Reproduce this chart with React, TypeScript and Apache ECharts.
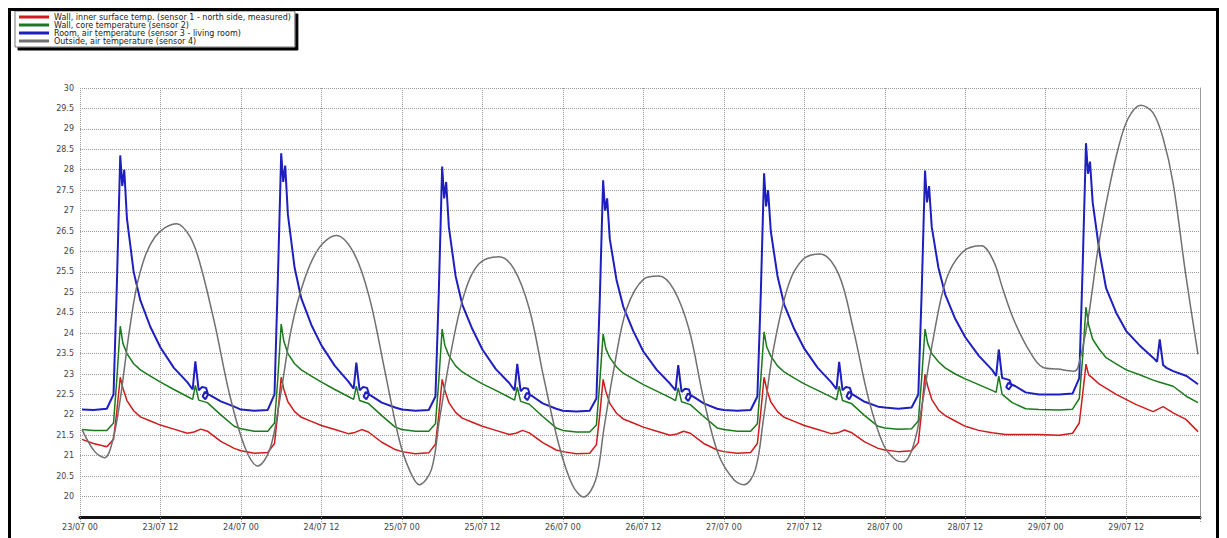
import React, { useEffect, useRef } from "react";
import * as echarts from "echarts";

const SERIES_NAMES = [
  "Wall, inner surface temp. (sensor 1 - north side, measured)",
  "Wall, core temperature (sensor 2)",
  "Room, air temperature (sensor 3 - living room)",
  "Outside, air temperature (sensor 4)",
];

const X_TICK_LABELS = [
  "23/07 00", "23/07 12", "24/07 00", "24/07 12", "25/07 00", "25/07 12", "26/07 00",
  "26/07 12", "27/07 00", "27/07 12", "28/07 00", "28/07 12", "29/07 00", "29/07 12",
];

const X_MIN = 0;
const X_MAX = 167;
const X_STEP = 12;
const Y_MIN = 19.5;
const Y_MAX = 30;
const Y_STEP = 0.5;

// [hour, °C]
const redData: [number, number][] = [
  [0.3, 21.4], [2, 21.3], [4, 21.22], [5, 21.4], [5.5, 22.1], [6, 22.92], [6.4, 22.65], [7, 22.35], [8, 22.1], [9, 21.95], [10.5, 21.85], [12, 21.75], [14, 21.65], [16, 21.55], [17, 21.58], [18, 21.65], [19, 21.6], [21, 21.35], [23, 21.18],
  [24, 21.12], [26, 21.06], [28, 21.08], [29, 21.3], [29.5, 22.05], [30, 22.92], [30.4, 22.62], [31, 22.32], [32, 22.08], [33, 21.94], [34.5, 21.84], [36, 21.74], [38, 21.64], [40, 21.54], [41, 21.57], [42, 21.64], [43, 21.58], [45, 21.33], [47, 21.15],
  [48, 21.1], [50, 21.05], [52, 21.07], [53, 21.28], [53.5, 22.0], [54, 22.87], [54.4, 22.6], [55, 22.3], [56, 22.06], [57, 21.92], [58.5, 21.82], [60, 21.72], [62, 21.62], [64, 21.52], [65, 21.55], [66, 21.62], [67, 21.56], [69, 21.32], [71, 21.14],
  [72, 21.1], [74, 21.05], [76, 21.06], [77, 21.27], [77.5, 22.0], [78, 22.87], [78.4, 22.58], [79, 22.28], [80, 22.04], [81, 21.9], [82.5, 21.8], [84, 21.7], [86, 21.6], [88, 21.5], [89, 21.53], [90, 21.6], [91, 21.55], [93, 21.3], [95, 21.14],
  [96, 21.1], [98, 21.06], [100, 21.08], [101, 21.3], [101.5, 22.05], [102, 22.92], [102.4, 22.62], [103, 22.32], [104, 22.08], [105, 21.94], [106.5, 21.84], [108, 21.74], [110, 21.64], [112, 21.54], [113, 21.56], [114, 21.63], [115, 21.57], [117, 21.34], [119, 21.18],
  [120, 21.14], [122, 21.1], [124, 21.12], [125, 21.32], [125.5, 22.1], [126, 22.99], [126.4, 22.7], [127, 22.38], [128, 22.12], [129, 21.98], [130.5, 21.85], [132, 21.72], [134, 21.62], [136, 21.56], [138, 21.52], [141, 21.52], [143, 21.52],
  [146, 21.5], [148, 21.55], [149, 21.8], [149.5, 22.5], [150, 23.24], [150.4, 22.98], [151, 22.9], [152, 22.75], [154.5, 22.5], [157.5, 22.25], [160, 22.08], [161.5, 22.2], [163, 22.05], [164.9, 21.89], [166.7, 21.59],
];

const greenData: [number, number][] = [
  [0.3, 21.64], [2, 21.62], [4, 21.62], [5, 21.8], [5.5, 22.9], [6, 24.17], [6.4, 23.75], [7, 23.5], [8, 23.25], [9, 23.1], [10.5, 22.95], [12, 22.8], [14, 22.62], [16, 22.45], [16.8, 22.38], [17.2, 22.72], [17.7, 22.36], [19, 22.3], [21, 22.0], [23, 21.72],
  [24, 21.66], [26, 21.6], [28, 21.6], [29, 21.8], [29.5, 22.9], [30, 24.22], [30.4, 23.8], [31, 23.5], [32, 23.25], [33, 23.1], [34.5, 22.95], [36, 22.8], [38, 22.62], [40, 22.45], [40.8, 22.38], [41.2, 22.7], [41.7, 22.35], [43, 22.28], [45, 21.98], [47, 21.7],
  [48, 21.64], [50, 21.6], [52, 21.6], [53, 21.78], [53.5, 22.85], [54, 24.1], [54.4, 23.7], [55, 23.45], [56, 23.2], [57, 23.05], [58.5, 22.9], [60, 22.76], [62, 22.6], [64, 22.43], [64.8, 22.36], [65.2, 22.68], [65.7, 22.33], [67, 22.26], [69, 21.96], [71, 21.68],
  [72, 21.62], [74, 21.58], [76, 21.58], [77, 21.75], [77.5, 22.8], [78, 23.98], [78.4, 23.62], [79, 23.4], [80, 23.17], [81, 23.02], [82.5, 22.88], [84, 22.74], [86, 22.58], [88, 22.42], [88.8, 22.35], [89.2, 22.66], [89.7, 22.32], [91, 22.25], [93, 21.96], [95, 21.68],
  [96, 21.64], [98, 21.6], [100, 21.6], [101, 21.78], [101.5, 22.85], [102, 24.03], [102.4, 23.66], [103, 23.44], [104, 23.2], [105, 23.05], [106.5, 22.9], [108, 22.76], [110, 22.6], [112, 22.44], [112.8, 22.37], [113.2, 22.7], [113.7, 22.35], [115, 22.28], [117, 21.98], [119, 21.72],
  [120, 21.68], [122, 21.65], [124, 21.66], [125, 21.85], [125.5, 22.9], [126, 24.1], [126.4, 23.75], [127, 23.5], [128, 23.3], [129, 23.15], [130.5, 23.0], [132, 22.88], [134, 22.74], [136, 22.6], [136.6, 22.55], [137, 22.95], [137.5, 22.5], [139, 22.3], [141, 22.15], [143, 22.13],
  [146, 22.12], [148, 22.14], [149, 22.4], [149.5, 23.4], [150, 24.64], [150.4, 24.2], [151, 23.85], [152, 23.6], [153, 23.4], [154.5, 23.25], [156, 23.1], [158, 22.98], [160, 22.85], [161, 22.8], [163, 22.7], [165, 22.45], [166.7, 22.3],
];

const blueData: [number, number][] = [
  [0.3, 22.13], [2, 22.12], [4, 22.15], [5, 22.5], [5.5, 25.2], [6, 28.35], [6.3, 27.6], [6.6, 28.0], [7, 26.8], [8, 25.5], [9, 24.8], [10.5, 24.15], [12, 23.65], [14, 23.15], [16, 22.8], [16.8, 22.62], [17.2, 23.31], [17.7, 22.6], [18.2, 22.68], [18.8, 22.66], [19.1, 22.5], [18.7, 22.38], [18.3, 22.45], [18.6, 22.56], [19.5, 22.47], [21, 22.33], [23, 22.2],
  [24, 22.13], [26, 22.1], [28, 22.12], [29, 22.5], [29.5, 25.3], [30, 28.4], [30.3, 27.7], [30.6, 28.1], [31, 26.9], [32, 25.6], [33, 24.85], [34.5, 24.2], [36, 23.7], [38, 23.2], [40, 22.82], [40.8, 22.64], [41.2, 23.28], [41.7, 22.6], [42.2, 22.68], [42.8, 22.66], [43.1, 22.5], [42.7, 22.38], [42.3, 22.45], [42.6, 22.56], [43.5, 22.46], [45, 22.3], [47, 22.18],
  [48, 22.13], [50, 22.1], [52, 22.12], [53, 22.45], [53.5, 25.0], [54, 28.08], [54.3, 27.3], [54.6, 27.7], [55, 26.6], [56, 25.4], [57, 24.7], [58.5, 24.1], [60, 23.6], [62, 23.12], [64, 22.78], [64.8, 22.6], [65.2, 23.25], [65.7, 22.58], [66.2, 22.66], [66.8, 22.64], [67.1, 22.48], [66.7, 22.36], [66.3, 22.43], [66.6, 22.54], [67.5, 22.45], [69, 22.28], [71, 22.15],
  [72, 22.1], [74, 22.08], [76, 22.1], [77, 22.4], [77.5, 24.8], [78, 27.74], [78.3, 27.0], [78.6, 27.3], [79, 26.3], [80, 25.3], [81, 24.65], [82.5, 24.05], [84, 23.55], [86, 23.1], [88, 22.76], [88.8, 22.6], [89.2, 23.22], [89.7, 22.56], [90.2, 22.64], [90.8, 22.62], [91.1, 22.46], [90.7, 22.34], [90.3, 22.41], [90.6, 22.52], [91.5, 22.44], [93, 22.28], [95, 22.15],
  [96, 22.12], [98, 22.1], [100, 22.12], [101, 22.45], [101.5, 24.9], [102, 27.91], [102.3, 27.1], [102.6, 27.5], [103, 26.5], [104, 25.4], [105, 24.7], [106.5, 24.1], [108, 23.62], [110, 23.15], [112, 22.8], [112.8, 22.63], [113.2, 23.3], [113.7, 22.6], [114.2, 22.68], [114.8, 22.66], [115.1, 22.5], [114.7, 22.38], [114.3, 22.45], [114.6, 22.56], [115.5, 22.47], [117, 22.32], [119, 22.2],
  [120, 22.18], [122, 22.15], [124, 22.18], [125, 22.5], [125.5, 25.0], [126, 27.98], [126.3, 27.2], [126.6, 27.6], [127, 26.6], [128, 25.6], [129, 24.95], [130.5, 24.35], [132, 23.9], [134, 23.45], [136, 23.1], [136.6, 22.95], [137, 23.6], [137.5, 22.9], [138, 22.88], [138.6, 22.85], [138.9, 22.72], [138.5, 22.62], [138.1, 22.68], [138.4, 22.78], [139.5, 22.7], [141, 22.55], [143, 22.5],
  [146, 22.5], [148, 22.52], [149, 22.9], [149.5, 25.6], [150, 28.65], [150.3, 27.9], [150.6, 28.2], [151, 27.2], [152, 26.0], [153, 25.1], [154.5, 24.5], [156, 24.05], [158, 23.7], [160, 23.4], [160.6, 23.3], [161, 23.85], [161.5, 23.22], [162, 23.15], [163, 23.07], [165, 22.95], [166.7, 22.75],
];

const grayData: [number, number][] = [
  [0.3, 21.64], [2.2, 21.1], [3.7, 20.95], [4.9, 21.39], [6, 22.38], [7.4, 24.1], [8.9, 25.45], [11.2, 26.36], [14.4, 26.68], [16.4, 26.36], [17.9, 25.7], [20.1, 24.22], [22.3, 22.5], [24.6, 21.2],
  [26.5, 20.75], [28.3, 21.15], [29.8, 22.38], [31.5, 24.1], [33.5, 25.33], [35.7, 26.1], [38.2, 26.39], [40.9, 25.94], [43.2, 24.84], [45.4, 23.12], [47.6, 21.39], [49.1, 20.66],
  [50.6, 20.29], [52.4, 20.66], [53.6, 21.89], [55.4, 23.61], [57.3, 24.96], [59.5, 25.7], [62.5, 25.87], [64.7, 25.57], [67, 24.59], [69.2, 22.87], [71.4, 21.27], [73.4, 20.29],
  [75.1, 19.99], [76.9, 20.41], [78.1, 21.64], [79.6, 23.12], [81.5, 24.59], [84.1, 25.33], [86.3, 25.4], [88.5, 25.08], [90.8, 24.1], [93, 22.38], [95.2, 21.03], [97.5, 20.41],
  [99, 20.29], [100.7, 20.66], [101.9, 21.89], [103.4, 23.61], [105.7, 25.21], [107.9, 25.82], [110.4, 25.94], [113.1, 25.45], [115.3, 24.1], [117.6, 22.38], [119.8, 21.27], [121.6, 20.9],
  [122.8, 20.85], [124.3, 21.27], [125.7, 22.38], [127.2, 23.85], [129.2, 25.33], [131.7, 26.0], [134.4, 26.14], [136.2, 25.77], [137.6, 25.08], [139.2, 24.34], [141.4, 23.61], [143.6, 23.16],
  [145.8, 23.12], [148.1, 23.07], [148.8, 23.16], [150.3, 24.34], [151.8, 26.07], [153.3, 27.42], [154.8, 28.52], [156.3, 29.26], [158.2, 29.58], [160, 29.39], [161.5, 28.77], [163, 27.66],
  [164.9, 25.4], [166.7, 23.48],
];

const COLORS = ["#d01c1c", "#1c7a1c", "#1f1fc0", "#707070"];
const FONT = "DejaVu Sans";

export default function App() {
  const ref = useRef<HTMLDivElement>(null);
  useEffect(() => {
    if (!ref.current) return;
    const chart = echarts.init(ref.current, undefined, { renderer: "svg" });
    const datasets = [redData, greenData, blueData, grayData];
    const widths = [1.5, 1.5, 2, 1.5];
    const smooths = [false, false, false, 0.35];
    chart.setOption({
      animation: false,
      backgroundColor: "#fff",
      legend: {
        orient: "vertical",
        left: 4,
        top: 0,
        itemWidth: 30,
        itemHeight: 3,
        itemGap: 0,
        icon: "rect",
        padding: [2, 4, 2, 4],
        backgroundColor: "#fff",
        borderColor: "#777",
        borderWidth: 1,
        shadowColor: "#000",
        shadowOffsetX: 3,
        shadowOffsetY: 3,
        shadowBlur: 0,
        data: SERIES_NAMES,
        textStyle: { fontSize: 8, lineHeight: 8, color: "#222", fontFamily: FONT, padding: [0, 0, 0, 0] },
      },
      grid: { left: 69, top: 77, right: 16, bottom: 28, containLabel: false },
      xAxis: {
        type: "value",
        min: X_MIN,
        max: X_MAX,
        interval: X_STEP,
        axisLine: { show: true, lineStyle: { color: "#111", width: 3 } },
        axisTick: { show: true, length: 6, lineStyle: { color: "#999", type: "dotted" } },
        axisLabel: {
          fontSize: 8,
          color: "#444",
          fontFamily: FONT,
          margin: 6,
          formatter: (v: number) => {
            const i = Math.round(v / X_STEP);
            return Math.abs(i * X_STEP - v) < 1e-6 && X_TICK_LABELS[i] ? X_TICK_LABELS[i] : "";
          },
        },
        splitLine: { show: true, lineStyle: { color: "#999", type: "dotted", width: 1 } },
      },
      yAxis: [
        {
          type: "value",
          min: Y_MIN,
          max: Y_MAX,
          interval: Y_STEP,
          axisLine: { show: false },
          axisTick: { show: false },
          axisLabel: { fontSize: 8, color: "#444", fontFamily: FONT, margin: 6, showMinLabel: false },
          splitLine: { show: true, lineStyle: { color: "#999", type: "dotted", width: 1 } },
        },
        {
          type: "value",
          position: "right",
          min: Y_MIN,
          max: Y_MAX,
          interval: Y_STEP,
          axisLine: { show: true, lineStyle: { color: "#999", width: 1 } },
          axisTick: { show: false },
          axisLabel: { show: false },
          splitLine: { show: false },
        },
      ],
      series: SERIES_NAMES.map((name, i) => ({
        name,
        type: "line",
        data: datasets[i],
        showSymbol: false,
        symbol: "none",
        smooth: smooths[i],
        color: COLORS[i],
        lineStyle: { color: COLORS[i], width: widths[i] },
        emphasis: { disabled: true },
      })),
    });
    return () => chart.dispose();
  }, []);
  return (
    <div
      ref={ref}
      style={{
        width: 1211,
        height: 540,
        border: "3px solid #000",
        boxSizing: "border-box",
        background: "#fff",
      }}
    />
  );
}
